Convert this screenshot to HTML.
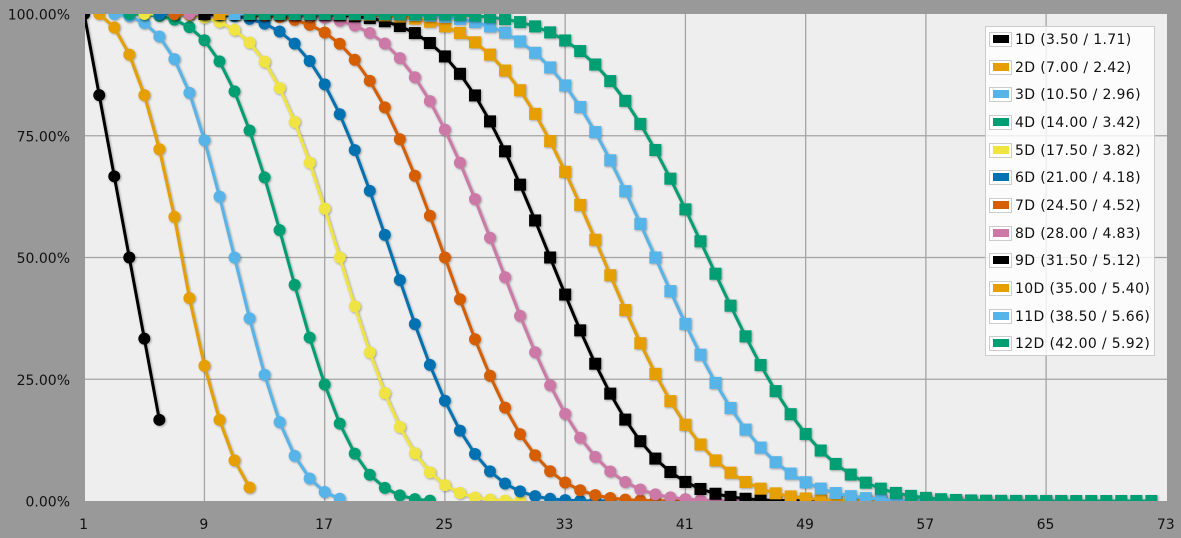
<!DOCTYPE html>
<html lang="en">
<head>
<meta charset="utf-8">
<title>Dice probability chart</title>
<style>
html,body{margin:0;padding:0;background:#999;}
body{width:1181px;height:538px;overflow:hidden;position:relative;font-family:"DejaVu Sans","Liberation Sans",sans-serif;}
svg{position:absolute;left:0;top:0;}
.tick{font-size:14px;fill:#111;font-family:"DejaVu Sans","Liberation Sans",sans-serif;}
#legend{position:absolute;left:985px;top:26px;width:168px;height:328px;background:rgba(255,255,255,.8);border:1px solid #ccc;}
.row{position:absolute;left:0;height:27px;width:168px;font-size:14px;letter-spacing:.35px;line-height:27px;color:#111;white-space:nowrap;}
.row .sw{position:absolute;left:3px;top:5px;width:21px;height:13px;border:1px solid #ccc;background:#fff;box-sizing:content-box;}
.row .sw i{position:absolute;left:3px;top:2px;width:16px;height:8px;display:block;}
.row .tx{position:absolute;left:29px;top:0;}
</style>
</head>
<body>
<svg id="chart" width="1181" height="538" viewBox="0 0 1181 538" xmlns="http://www.w3.org/2000/svg">
  <defs><clipPath id="plotClip"><rect x="85" y="14" width="1082" height="487"/></clipPath></defs>
  <rect x="85" y="14" width="1082" height="487" fill="#eeeeee"/>
  <g id="grid"></g>
  <g id="series" clip-path="url(#plotClip)"></g>
  <g id="axes"></g>
</svg>
<div id="legend">
  <div class="row" style="top:0px"><span class="sw"><i style="background:#000000"></i></span><span class="tx">1D (3.50 / 1.71)</span></div>
  <div class="row" style="top:28px"><span class="sw"><i style="background:#E69F00"></i></span><span class="tx">2D (7.00 / 2.42)</span></div>
  <div class="row" style="top:55px"><span class="sw"><i style="background:#56B4E9"></i></span><span class="tx">3D (10.50 / 2.96)</span></div>
  <div class="row" style="top:83px"><span class="sw"><i style="background:#009E73"></i></span><span class="tx">4D (14.00 / 3.42)</span></div>
  <div class="row" style="top:111px"><span class="sw"><i style="background:#F0E442"></i></span><span class="tx">5D (17.50 / 3.82)</span></div>
  <div class="row" style="top:138px"><span class="sw"><i style="background:#0072B2"></i></span><span class="tx">6D (21.00 / 4.18)</span></div>
  <div class="row" style="top:166px"><span class="sw"><i style="background:#D55E00"></i></span><span class="tx">7D (24.50 / 4.52)</span></div>
  <div class="row" style="top:194px"><span class="sw"><i style="background:#CC79A7"></i></span><span class="tx">8D (28.00 / 4.83)</span></div>
  <div class="row" style="top:221px"><span class="sw"><i style="background:#000000"></i></span><span class="tx">9D (31.50 / 5.12)</span></div>
  <div class="row" style="top:249px"><span class="sw"><i style="background:#E69F00"></i></span><span class="tx">10D (35.00 / 5.40)</span></div>
  <div class="row" style="top:277px"><span class="sw"><i style="background:#56B4E9"></i></span><span class="tx">11D (38.50 / 5.66)</span></div>
  <div class="row" style="top:304px"><span class="sw"><i style="background:#009E73"></i></span><span class="tx">12D (42.00 / 5.92)</span></div>
</div>
<script>
var xTicks = [1, 9, 17, 25, 33, 41, 49, 57, 65, 73];
var yTicks = [0, 25, 50, 75, 100];
var yTickLabels = ['0.00%', '25.00%', '50.00%', '75.00%', '100.00%'];
var seriesNames = ['1D', '2D', '3D', '4D', '5D', '6D', '7D', '8D', '9D', '10D', '11D', '12D'];
var seriesColors = ['#000000', '#E69F00', '#56B4E9', '#009E73', '#F0E442', '#0072B2', '#D55E00', '#CC79A7', '#000000', '#E69F00', '#56B4E9', '#009E73'];
var seriesShapes = ['circle', 'circle', 'circle', 'circle', 'circle', 'circle', 'circle', 'circle', 'square', 'square', 'square', 'square'];
var seriesStarts = [1, 2, 3, 4, 5, 6, 7, 8, 9, 10, 11, 12];
var d1 = [100, 83.33, 66.67, 50, 33.33, 16.67];
var d2 = [100, 97.22, 91.67, 83.33, 72.22, 58.33, 41.67, 27.78, 16.67, 8.33, 2.78];
var d3 = [100, 99.54, 98.15, 95.37, 90.74, 83.8, 74.07, 62.5, 50, 37.5, 25.93, 16.2, 9.26, 4.63, 1.85, 0.46];
var d4 = [100, 99.92, 99.61, 98.84, 97.3, 94.6, 90.28, 84.1, 76.08, 66.44, 55.63, 44.37, 33.56, 23.92, 15.9, 9.72, 5.4, 2.7, 1.16, 0.39, 0.08];
var d5 = [100, 99.99, 99.92, 99.73, 99.27, 98.37, 96.75, 94.12, 90.2, 84.8, 77.85, 69.48, 60.03, 50, 39.97, 30.52, 22.15, 15.2, 9.8, 5.88, 3.25, 1.63, 0.73, 0.27, 0.08, 0.01];
var d6 = [100, 100, 99.98, 99.94, 99.82, 99.55, 99.01, 98.03, 96.41, 93.92, 90.35, 85.54, 79.42, 72.06, 63.69, 54.64, 45.36, 36.31, 27.94, 20.58, 14.46, 9.65, 6.08, 3.59, 1.97, 0.99, 0.45, 0.18, 0.06, 0.02, 0];
var d7 = [100, 100, 100, 99.99, 99.96, 99.88, 99.72, 99.39, 98.79, 97.79, 96.21, 93.88, 90.61, 86.28, 80.83, 74.28, 66.78, 58.58, 50, 41.42, 33.22, 25.72, 19.17, 13.72, 9.39, 6.12, 3.79, 2.21, 1.21, 0.61, 0.28, 0.12, 0.04, 0.01, 0, 0];
var d8 = [100, 100, 100, 100, 99.99, 99.97, 99.92, 99.82, 99.62, 99.25, 98.63, 97.63, 96.11, 93.93, 90.93, 87.01, 82.11, 76.23, 69.46, 61.98, 54.05, 45.95, 38.02, 30.54, 23.77, 17.89, 12.99, 9.07, 6.07, 3.89, 2.37, 1.37, 0.75, 0.38, 0.18, 0.08, 0.03, 0.01, 0, 0, 0];
var d9 = [100, 100, 100, 100, 100, 99.99, 99.98, 99.95, 99.89, 99.76, 99.54, 99.15, 98.51, 97.53, 96.08, 94.04, 91.29, 87.72, 83.28, 77.95, 71.81, 64.96, 57.61, 50, 42.39, 35.04, 28.19, 22.05, 16.72, 12.28, 8.71, 5.96, 3.92, 2.47, 1.49, 0.85, 0.46, 0.24, 0.11, 0.05, 0.02, 0.01, 0, 0, 0, 0];
var d10 = [100, 100, 100, 100, 100, 100, 99.99, 99.99, 99.97, 99.93, 99.85, 99.71, 99.47, 99.06, 98.43, 97.47, 96.1, 94.19, 91.66, 88.39, 84.35, 79.5, 73.89, 67.6, 60.79, 53.64, 46.36, 39.21, 32.4, 26.11, 20.5, 15.65, 11.61, 8.34, 5.81, 3.9, 2.53, 1.57, 0.94, 0.53, 0.29, 0.15, 0.07, 0.03, 0.01, 0.01, 0, 0, 0, 0, 0];
var d11 = [100, 100, 100, 100, 100, 100, 100, 100, 99.99, 99.98, 99.96, 99.91, 99.82, 99.66, 99.41, 99, 98.37, 97.45, 96.15, 94.37, 92.03, 89.03, 85.33, 80.9, 75.75, 69.96, 63.63, 56.91, 50, 43.09, 36.37, 30.04, 24.25, 19.1, 14.67, 10.97, 7.97, 5.63, 3.85, 2.55, 1.63, 1, 0.59, 0.34, 0.18, 0.09, 0.05, 0.02, 0.01, 0, 0, 0, 0, 0, 0, 0];
var d12 = [100, 100, 100, 100, 100, 100, 100, 100, 100, 100, 99.99, 99.97, 99.94, 99.89, 99.79, 99.63, 99.36, 98.95, 98.34, 97.46, 96.23, 94.57, 92.39, 89.63, 86.23, 82.17, 77.43, 72.08, 66.19, 59.89, 53.33, 46.67, 40.11, 33.81, 27.92, 22.57, 17.83, 13.77, 10.37, 7.61, 5.43, 3.77, 2.54, 1.66, 1.05, 0.64, 0.37, 0.21, 0.11, 0.06, 0.03, 0.01, 0.01, 0, 0, 0, 0, 0, 0, 0, 0];
var allSeries = [d1, d2, d3, d4, d5, d6, d7, d8, d9, d10, d11, d12];

var NS = 'http://www.w3.org/2000/svg';
function xPos(v) { return 84.2 + (v - 1) * 15.03; }
function yPos(v) { return 501 - v * 4.87; }

var grid = document.getElementById('grid');
var axes = document.getElementById('axes');
var seriesLayer = document.getElementById('series');

xTicks.forEach(function (t) {
  if (t > 1 && t < 73) {
    var gl = document.createElementNS(NS, 'line');
    
    
    gl.setAttribute('x1', xPos(t));
    gl.setAttribute('x2', xPos(t));
    gl.setAttribute('y1', 14);
    gl.setAttribute('y2', 501);
    gl.setAttribute('stroke', '#a4a4a4');
    gl.setAttribute('stroke-width', '1.3');
    grid.appendChild(gl);
  }
  var lb = document.createElementNS(NS, 'text');
  
  
  lb.setAttribute('class', 'tick');
  lb.setAttribute('x', xPos(t) - 0.6);
  lb.setAttribute('y', 529);
  lb.setAttribute('text-anchor', 'middle');
  lb.textContent = String(t);
  axes.appendChild(lb);
});

yTicks.forEach(function (t, i) {
  if (t > 0 && t < 100) {
    var gl = document.createElementNS(NS, 'line');
    
    
    gl.setAttribute('x1', 85);
    gl.setAttribute('x2', 1167);
    gl.setAttribute('y1', yPos(t));
    gl.setAttribute('y2', yPos(t));
    gl.setAttribute('stroke', '#a4a4a4');
    gl.setAttribute('stroke-width', '1.3');
    grid.appendChild(gl);
  }
  var lb = document.createElementNS(NS, 'text');
  
  
  lb.setAttribute('class', 'tick');
  lb.setAttribute('x', 70);
  lb.setAttribute('y', yPos(t) + 5.5);
  lb.setAttribute('text-anchor', 'end');
  lb.textContent = yTickLabels[i];
  axes.appendChild(lb);
});

allSeries.forEach(function (vals, si) {
  var g = document.createElementNS(NS, 'g');
  
  
  g.setAttribute('style', 'filter:drop-shadow(1px 1.5px 1px rgba(0,0,0,.32))');
  var color = seriesColors[si];
  var start = seriesStarts[si];
  var pts = vals.map(function (v, i) { return xPos(start + i).toFixed(2) + ',' + yPos(v).toFixed(2); }).join(' ');
  var line = document.createElementNS(NS, 'polyline');
  
  
  line.setAttribute('points', pts);
  line.setAttribute('fill', 'none');
  line.setAttribute('stroke', color);
  line.setAttribute('stroke-width', '3');
  line.setAttribute('stroke-linejoin', 'round');
  g.appendChild(line);
  vals.forEach(function (v, i) {
    var cx = xPos(start + i);
    var cy = yPos(v);
    var m;
    if (seriesShapes[si] === 'circle') {
      m = document.createElementNS(NS, 'circle');
      m.setAttribute('cx', cx);
      m.setAttribute('cy', cy);
      m.setAttribute('r', 6);
    } else {
      m = document.createElementNS(NS, 'rect');
      m.setAttribute('x', cx - 6);
      m.setAttribute('y', cy - 6);
      m.setAttribute('width', 12);
      m.setAttribute('height', 12);
    }
    
    
    m.setAttribute('fill', color);
    g.appendChild(m);
  });
  seriesLayer.appendChild(g);
});
</script>
</body>
</html>
